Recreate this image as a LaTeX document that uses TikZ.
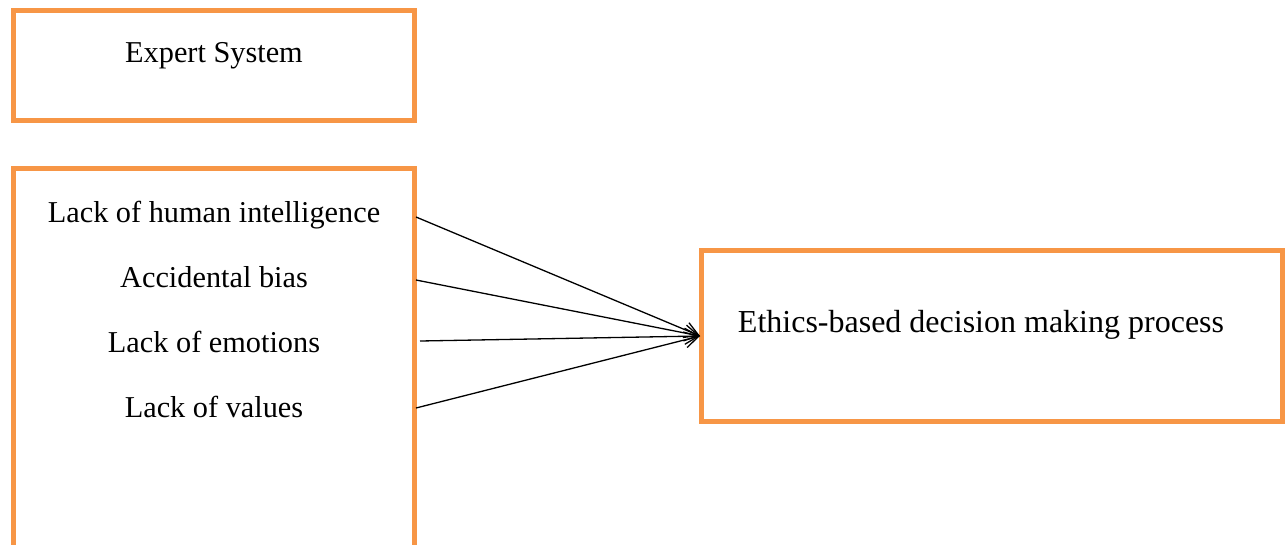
\documentclass[tikz,border=0pt]{standalone}
\usepackage{fontspec}
\setmainfont{Liberation Serif}
\usetikzlibrary{arrows.meta}
\definecolor{boxorange}{HTML}{F79646}
\begin{document}
\begin{tikzpicture}[x=1pt,y=-1pt,
  obox/.style={draw=boxorange,line width=5pt,fill=white},
  lbl/.style={font=\fontsize{30.3}{36}\selectfont,inner sep=0pt,anchor=base},
  conn/.style={line width=1.3pt,-{Straight Barb[length=14pt,width=16pt,line width=1.3pt]}}]
\useasboundingbox (0,0) rectangle (1285,544);
\fill[white] (0,0) rectangle (1285,544);
\draw[obox] (13.5,10.5) rectangle (414.5,120.5);
\draw[obox] (13.5,168.5) rectangle (414.5,560);
\draw[obox] (701.5,250.5) rectangle (1282,421.5);
\node[lbl] (es) at (214,62) {Expert System};
\node[lbl] (l1) at (214,222) {Lack of human intelligence};
\node[lbl] (l2) at (214,287) {Accidental bias};
\node[lbl] (l3) at (214,352) {Lack of emotions};
\node[lbl] (l4) at (214,417) {Lack of values};
\node[lbl,font=\fontsize{32}{38}\selectfont] (eth) at (981,332) {Ethics-based decision making process};
\coordinate (s1) at (416,217);
\coordinate (s2) at (416,280);
\coordinate (s3) at (420,341);
\coordinate (s4) at (416,408);
\coordinate (t) at (700,336);
\draw[conn] (s1) -- (t);
\draw[conn] (s2) -- (t);
\draw[conn] (s3) -- (t);
\draw[conn] (s4) -- (t);
\end{tikzpicture}
\end{document}
